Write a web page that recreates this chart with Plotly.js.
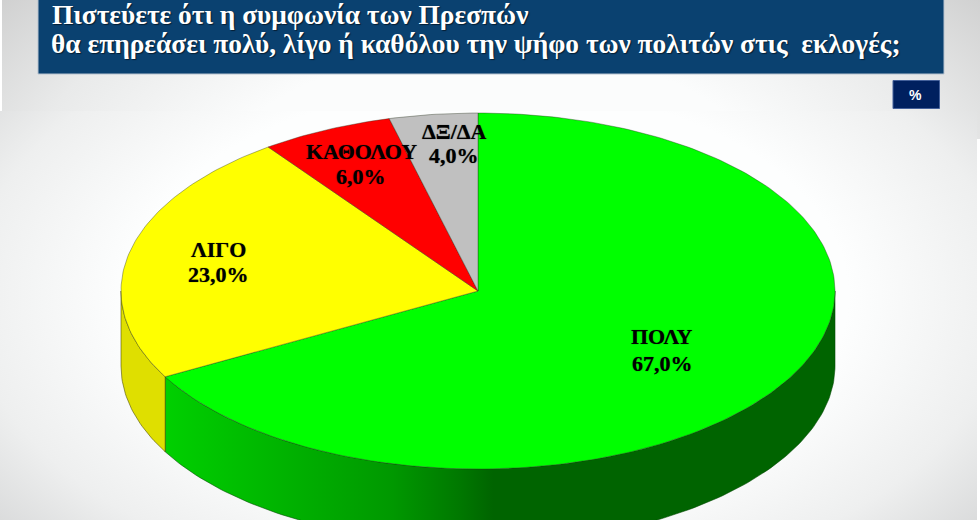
<!DOCTYPE html>
<html lang="el">
<head>
<meta charset="utf-8">
<title>Συμφωνία των Πρεσπών</title>
<script src="https://cdn.plot.ly/plotly-3.0.1.min.js"></script>
<style>
html,body{margin:0;padding:0;width:980px;height:520px;overflow:hidden;background:#fff}
#back1{position:absolute;left:2px;top:0;width:978px;height:139px;
 background:radial-gradient(ellipse 700px 400px at 490px 215px,#fbfcfc 42%,#e9eaea 68%,#c2c2c2 100%)}
#back2{position:absolute;left:0;top:111px;width:977px;height:409px;
 background:radial-gradient(ellipse 720px 420px at 488px 185px,#fdfefe 50%,#eeefef 72%,#c8c9ca 100%)}
#chart{position:absolute;left:0;top:0;width:980px;height:520px}
</style>
</head>
<body>
<div id="back1"></div><div id="back2"></div><div id="chart"></div>
<script>
// Data
const categories = ["ΠΟΛΥ", "ΛΙΓΟ", "ΚΑΘΟΛΟΥ", "ΔΞ/ΔΑ"];
const values = [67, 23, 6, 4];
const valueLabels = ["67,0%", "23,0%", "6,0%", "4,0%"];
const titleLines = ["Πιστεύετε ότι η συμφωνία των Πρεσπών",
                    "θα επηρεάσει πολύ, λίγο ή καθόλου την ψήφο των πολιτών στις  εκλογές;"];
const unitLabel = "%";

// Styles
const topColors = ["#00ff00", "#ffff00", "#ff0000", "#c0c0c0"];
const sideColors = ["#00aa00", "#dfdf00", "#cc0000", "#999999"];
const sideGradient = [[0, "#00d000"], [0.34, "#009800"], [0.44, "#007800"], [0.49, "#006400"], [1, "#006400"]];

// Geometry of the drawing: page pixels are mapped onto the axes so the pie has unit radius
const W = 980, H = 520, cx = 478, cy = 291, rx = 357, ry = 178, depthPx = 75;
const depth = depthPx / ry;
const xRange = [-cx / rx, (W - cx) / rx];
const yRange = [-(H - cy) / ry, cy / ry];
const X = p => (p - cx) / rx, Y = p => (cy - p) / ry;

// Label anchors in page pixels: x, name line y, value line y
const labelPx = [[662, 336, 363], [218, 249, 274], [361, 151, 176], [454, 131, 155]];

function arc(a0, a1, dy) {
  const xs = [], ys = [], n = Math.max(2, Math.ceil(Math.abs(a1 - a0)));
  for (let i = 0; i <= n; i++) {
    const a = (a0 + (a1 - a0) * i / n) * Math.PI / 180;
    xs.push(Math.sin(a)); ys.push(Math.cos(a) - dy);
  }
  return [xs, ys];
}

const total = values.reduce((a, b) => a + b, 0);
const sideTraces = [], topTraces = [];
let acc = 0;
values.forEach((v, i) => {
  const a0 = acc / total * 360, a1 = (acc + v) / total * 360;
  acc += v;
  const [tx, ty] = arc(a0, a1, 0);
  topTraces.push({
    type: "scatter", mode: "lines", name: categories[i],
    x: [0, ...tx, 0], y: [0, ...ty, 0], fill: "toself", fillcolor: topColors[i],
    line: {color: "rgba(40,50,30,0.55)", width: 0.7}, hoverinfo: "skip"
  });
  const s0 = Math.max(a0, 90), s1 = Math.min(a1, 270);
  if (s1 > s0) {
    const [ux, uy] = arc(s0, s1, 0);
    const [lx, ly] = arc(s1, s0, depth);
    const tr = {
      type: "scatter", mode: "lines", name: categories[i] + " side",
      x: [...ux, ...lx, ux[0]], y: [...uy, ...ly, uy[0]], fill: "toself",
      line: {color: i === 0 ? "rgba(0,70,0,0.7)" : "rgba(70,70,0,0.7)", width: 0.8}, hoverinfo: "skip"
    };
    if (i === 0) tr.fillgradient = {type: "horizontal", colorscale: sideGradient};
    else tr.fillcolor = sideColors[i];
    sideTraces.push(tr);
  }
});

const rect = (x0, y0, x1, y1, fill, line) => ({
  type: "rect", xref: "x", yref: "y", layer: "below",
  x0: X(x0), x1: X(x1), y0: Y(y0), y1: Y(y1), fillcolor: fill, line: {color: line, width: 1}
});

const titleFont = {family: "Liberation Serif", size: 27.4, color: "#ffffff", weight: 700,
                   shadow: "1px 1px 1px rgba(0,0,0,0.55)"};
const labelFont = {family: "Liberation Serif", size: 22, color: "#000000", weight: 700,
                   shadow: "0 0 1px rgba(0,0,0,0.6)"};
const textAt = (x, y, text, font, anchor) => ({
  x: X(x), y: Y(y), xref: "x", yref: "y", showarrow: false, text, font,
  xanchor: anchor || "center", yanchor: "middle"
});

const layout = {
  width: W, height: H, margin: {l: 0, r: 0, t: 0, b: 0},
  paper_bgcolor: "rgba(0,0,0,0)", plot_bgcolor: "rgba(0,0,0,0)", showlegend: false,
  xaxis: {range: xRange, visible: false, fixedrange: true},
  yaxis: {range: yRange, visible: false, fixedrange: true},
  title: {text: titleLines[0], x: 52 / W, xref: "paper", xanchor: "left",
          y: 1 - 14 / H, yref: "container", yanchor: "middle", pad: {t: 0, b: 0},
          font: titleFont},
  shapes: [rect(38, -2, 944, 74, "#0a4170", "#b7c3cf"),
           rect(893, 80.5, 939.5, 108.5, "#00205f", "#44609a")],
  annotations: [
    textAt(48.5, 44, titleLines[1], titleFont, "left"),
    ...categories.map((c, i) => textAt(labelPx[i][0], labelPx[i][1], c, labelFont)),
    ...valueLabels.map((c, i) => textAt(labelPx[i][0], labelPx[i][2], c, labelFont)),
    textAt(915, 95, unitLabel, {family: "Liberation Sans", size: 14, color: "#ffffff", weight: 700})
  ]
};

Plotly.newPlot("chart", [...sideTraces, ...topTraces], layout, {staticPlot: true, displayModeBar: false});
</script>
</body>
</html>
